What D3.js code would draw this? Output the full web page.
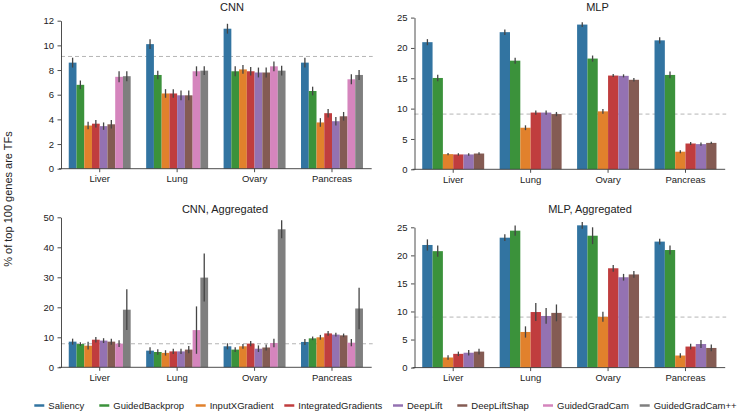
<!DOCTYPE html>
<html>
<head>
<meta charset="utf-8">
<script src="https://cdn.jsdelivr.net/npm/d3@7"></script>
<style>
  html, body { margin: 0; padding: 0; background: #fff; }
  svg { display: block; font-family: "Liberation Sans", Arial, Helvetica, sans-serif; }
</style>
</head>
<body>
<svg id="chart" width="738" height="411"></svg>
<script>
// ---------------- DATA ----------------
const categories = ["Liver", "Lung", "Ovary", "Pancreas"];
const methods = ["Saliency", "GuidedBackprop", "InputXGradient", "IntegratedGradients",
                 "DeepLift", "DeepLiftShap", "GuidedGradCam", "GuidedGradCam++"];
const methodColors = ["#1f77b4", "#2ca02c", "#ff7f0e", "#d62728",
                      "#9467bd", "#8c564b", "#e377c2", "#7f7f7f"];

// CNN (rows = categories, cols = 8 methods)
const cnnValues = [
  [8.6, 6.8, 3.5, 3.65, 3.45, 3.6, 7.45, 7.5],
  [10.1, 7.6, 6.1, 6.1, 5.95, 5.95, 7.9, 7.95],
  [11.35, 7.9, 8.05, 7.9, 7.8, 7.8, 8.3, 7.95],
  [8.6, 6.3, 3.75, 4.5, 3.85, 4.25, 7.25, 7.6]
];
const cnnErrors = [
  [0.4, 0.35, 0.3, 0.3, 0.3, 0.35, 0.45, 0.4],
  [0.4, 0.35, 0.35, 0.35, 0.4, 0.4, 0.4, 0.35],
  [0.4, 0.4, 0.35, 0.35, 0.4, 0.4, 0.4, 0.4],
  [0.4, 0.35, 0.35, 0.35, 0.35, 0.35, 0.4, 0.4]
];
const cnnBaseline = 9.1;

// MLP (6 methods)
const mlpValues = [
  [20.95, 15.05, 2.5, 2.45, 2.45, 2.6],
  [22.6, 17.9, 6.85, 9.35, 9.35, 9.1],
  [23.85, 18.25, 9.55, 15.45, 15.4, 14.75],
  [21.25, 15.55, 2.9, 4.25, 4.15, 4.35]
];
const mlpErrors = [
  [0.5, 0.55, 0.2, 0.2, 0.2, 0.2],
  [0.45, 0.5, 0.4, 0.35, 0.35, 0.35],
  [0.4, 0.5, 0.4, 0.25, 0.25, 0.3],
  [0.5, 0.55, 0.25, 0.25, 0.25, 0.2]
];
const mlpBaseline = 9.1;

// CNN, Aggregated (8 methods)
const cnnAggValues = [
  [8.55, 7.75, 7.2, 9.2, 8.9, 8.55, 7.9, 19.2],
  [5.55, 5.1, 4.8, 5.3, 5.3, 5.9, 12.4, 29.9],
  [7.0, 5.9, 7.0, 7.9, 6.2, 6.6, 8.1, 46.0],
  [8.45, 9.65, 10.0, 11.3, 10.9, 10.65, 8.2, 19.6]
];
const cnnAggErrors = [
  [1.0, 0.6, 1.3, 0.9, 0.8, 1.0, 1.1, 6.8],
  [1.1, 0.9, 0.9, 0.9, 0.9, 1.2, 7.9, 8.0],
  [1.0, 0.8, 0.8, 0.9, 1.1, 1.0, 1.4, 3.0],
  [1.0, 0.6, 0.8, 0.8, 0.6, 0.6, 1.2, 6.9]
];
const cnnAggBaseline = 7.85;

// MLP, Aggregated (6 methods)
const mlpAggValues = [
  [21.85, 20.75, 1.8, 2.45, 2.65, 2.85],
  [23.15, 24.4, 6.35, 9.9, 9.2, 9.75],
  [25.35, 23.5, 9.05, 17.7, 16.1, 16.6],
  [22.45, 20.95, 2.15, 3.75, 4.2, 3.5]
];
const mlpAggErrors = [
  [1.0, 1.0, 0.4, 0.4, 0.5, 0.5],
  [0.6, 0.9, 1.0, 1.6, 1.4, 1.5],
  [0.6, 1.5, 0.9, 0.6, 0.6, 0.6],
  [0.5, 0.8, 0.4, 0.5, 0.7, 0.6]
];
const mlpAggBaseline = 9.0;

const cnnTicks = [0, 2, 4, 6, 8, 10, 12];
const mlpTicks = [0, 5, 10, 15, 20, 25];
const cnnAggTicks = [0, 10, 20, 30, 40, 50];
const mlpAggTicks = [0, 5, 10, 15, 20, 25];

const yLabel = "% of top 100 genes are TFs";

// ---------------- LAYOUT ----------------
const panels = [
  { title: "CNN", titleX: 232, titleY: 11, x0: 61, x1: 370.7, y0: 168.7, y1: 20.7,
    domainMax: 12, ticks: cnnTicks, values: cnnValues, errors: cnnErrors, n: 8, base: cnnBaseline },
  { title: "MLP", titleX: 597.5, titleY: 11, x0: 414.5, x1: 724.2, y0: 169.3, y1: 17.6,
    domainMax: 25, ticks: mlpTicks, values: mlpValues, errors: mlpErrors, n: 6, base: mlpBaseline },
  { title: "CNN, Aggregated", titleX: 225, titleY: 212.5, x0: 61, x1: 370.7, y0: 367.3, y1: 217.3,
    domainMax: 50, ticks: cnnAggTicks, values: cnnAggValues, errors: cnnAggErrors, n: 8, base: cnnAggBaseline },
  { title: "MLP, Aggregated", titleX: 590, titleY: 212.5, x0: 414.5, x1: 724.2, y0: 367.6, y1: 227.3,
    domainMax: 25, ticks: mlpAggTicks, values: mlpAggValues, errors: mlpAggErrors, n: 6, base: mlpAggBaseline }
];

const svg = d3.select("#chart");
const axisColor = "#3a3a3a";
const textColor = "#222";
const errColor = "#454545";
const desat = c => { const h = d3.hsl(c); h.s *= 0.75; return h.formatHex(); };
const fills = methodColors.map(desat);

panels.forEach(p => {
  const g = svg.append("g");
  const x = d3.scaleBand().domain(categories).range([p.x0, p.x1])
    .paddingInner(0.2).paddingOuter(0.1);
  const sub = d3.scaleBand().domain(d3.range(p.n)).range([0, x.bandwidth()]);
  const y = d3.scaleLinear().domain([0, p.domainMax]).range([p.y0, p.y1]);

  // baseline dashed line
  g.append("line")
    .attr("x1", p.x0).attr("x2", p.x1 + 2)
    .attr("y1", y(p.base)).attr("y2", y(p.base))
    .attr("stroke", "#b5b5b5").attr("stroke-width", 1)
    .attr("stroke-dasharray", "4,3");

  // bars
  categories.forEach((cat, ci) => {
    const cg = g.append("g").attr("transform", `translate(${x(cat)},0)`);
    d3.range(p.n).forEach(mi => {
      const v = p.values[ci][mi];
      cg.append("rect")
        .attr("x", sub(mi)).attr("width", sub.bandwidth())
        .attr("y", y(v)).attr("height", y(0) - y(v))
        .attr("fill", fills[mi]);
    });
    d3.range(p.n).forEach(mi => {
      const v = p.values[ci][mi], e = p.errors[ci][mi];
      const cx = sub(mi) + sub.bandwidth() / 2;
      cg.append("line")
        .attr("x1", cx).attr("x2", cx)
        .attr("y1", y(v - e)).attr("y2", y(v + e))
        .attr("stroke", errColor).attr("stroke-width", 1.3);
    });
  });

  // axes
  const xAxis = d3.axisBottom(x).tickSize(3.5).tickPadding(3).tickSizeOuter(0);
  const gx = g.append("g").attr("transform", `translate(0,${p.y0})`).call(xAxis);
  const yAxis = d3.axisLeft(y).tickValues(p.ticks).tickSize(3.5).tickPadding(3.5).tickSizeOuter(0);
  const gy = g.append("g").attr("transform", `translate(${p.x0},0)`).call(yAxis);
  [gx, gy].forEach(a => {
    a.select(".domain").attr("stroke", axisColor).attr("stroke-width", 0.9);
    a.selectAll(".tick line").attr("stroke", axisColor).attr("stroke-width", 0.9);
    a.selectAll(".tick text").attr("fill", textColor)
      .style("font-size", "9.5px").style("font-family", "'Liberation Sans', Arial, sans-serif");
  });
  gx.select(".domain").attr("d", `M${p.x0 - 2},0H${p.x1 + 1}`);

  // title
  g.append("text").attr("x", p.titleX).attr("y", p.titleY)
    .attr("text-anchor", "middle").attr("fill", textColor)
    .style("font-size", "11px").text(p.title);
});

// y label
svg.append("text")
  .attr("transform", "translate(12,199) rotate(-90)")
  .attr("text-anchor", "middle").attr("fill", textColor)
  .style("font-size", "11px").text(yLabel);

// legend
const legendX = [34.3, 99.3, 195.7, 284.3, 393, 457.3, 543, 639.7];
const lg = svg.append("g");
methods.forEach((m, i) => {
  lg.append("line")
    .attr("x1", legendX[i]).attr("x2", legendX[i] + 10)
    .attr("y1", 405.5).attr("y2", 405.5)
    .attr("stroke", fills[i]).attr("stroke-width", 2.5);
  lg.append("text")
    .attr("x", legendX[i] + 14).attr("y", 408.5)
    .attr("fill", textColor).style("font-size", "9.5px").text(m);
});
</script>
</body>
</html>
